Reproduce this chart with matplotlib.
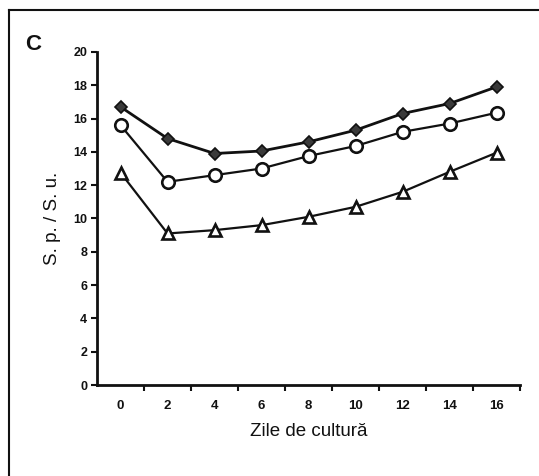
"""Panel C: S.p./S.u. ratio over culture days, three series (diamond, circle, triangle)."""

import matplotlib

matplotlib.use("Agg")
import matplotlib.pyplot as plt
from matplotlib.lines import Line2D

DAYS = ["0", "2", "4", "6", "8", "10", "12", "14", "16"]

# values
DIAMOND = [16.7, 14.8, 13.9, 14.05, 14.6, 15.3, 16.3, 16.9, 17.9]
CIRCLE = [15.6, 12.2, 12.6, 13.0, 13.75, 14.35, 15.2, 15.7, 16.35]
TRIANGLE = [12.75, 9.1, 9.3, 9.6, 10.1, 10.7, 11.6, 12.8, 13.95]

Y_TICKS = list(range(0, 21, 2))

FONT = ["Liberation Sans", "DejaVu Sans"]
INK = "#111111"


def main() -> None:
    plt.rcParams["font.family"] = FONT
    fig = plt.figure(figsize=(5.39, 4.76), dpi=100)
    fig.patch.set_facecolor("white")
    ax = fig.add_axes([0.180, 0.191, 0.785, 0.700])

    x = list(range(len(DAYS)))
    ax.plot(x, DIAMOND, color=INK, lw=2.0, marker="D", ms=6.5,
            mfc="#3a3a3a", mec=INK, mew=1.2, zorder=3)
    ax.plot(x, CIRCLE, color=INK, lw=1.6, marker="o", ms=9,
            mfc="white", mec=INK, mew=1.9, zorder=4)
    ax.plot(x, TRIANGLE, color=INK, lw=1.6, marker="^", ms=9,
            mfc="white", mec=INK, mew=1.9, zorder=4)

    ax.set_xlim(-0.5, len(DAYS) - 0.5)
    ax.set_ylim(0, 20)

    ax.set_xticks(x)
    ax.set_xticklabels(DAYS, fontsize=9.5, fontweight="bold")
    ax.set_xticks([i + 0.5 for i in range(len(DAYS))], minor=True)
    ax.tick_params(axis="x", which="major", length=0, pad=11, colors=INK)
    ax.tick_params(axis="x", which="minor", length=4, width=1.5,
                   direction="out", color=INK)

    ax.set_yticks(Y_TICKS)
    ax.set_yticklabels([str(v) for v in Y_TICKS], fontsize=9, fontweight="bold")
    ax.tick_params(axis="y", length=4, width=1.5, direction="out", pad=3,
                   colors=INK)

    for side in ("top", "right"):
        ax.spines[side].set_visible(False)
    for side in ("left", "bottom"):
        ax.spines[side].set_linewidth(2.0)
        ax.spines[side].set_color(INK)

    ax.set_xlabel("Zile de cultură", fontsize=13.5, color=INK, labelpad=8)
    ax.set_ylabel("S. p. / S. u.", fontsize=13.5, color=INK, labelpad=9)

    fig.text(33 / 539, 1 - 45 / 476, "C", fontsize=16, fontweight="bold",
             ha="center", va="center", color=INK)

    # frame lines (left and top) around the panel
    W, H = 539, 476
    fig.add_artist(Line2D([8.5 / W, 8.5 / W], [0, 1 - 10 / H],
                          transform=fig.transFigure, color=INK, lw=1.5))
    fig.add_artist(Line2D([8.5 / W, 1], [1 - 10 / H, 1 - 10 / H],
                          transform=fig.transFigure, color=INK, lw=1.5))

    fig.savefig("out.png", dpi=100, facecolor="white")
    plt.close(fig)


if __name__ == "__main__":
    main()
